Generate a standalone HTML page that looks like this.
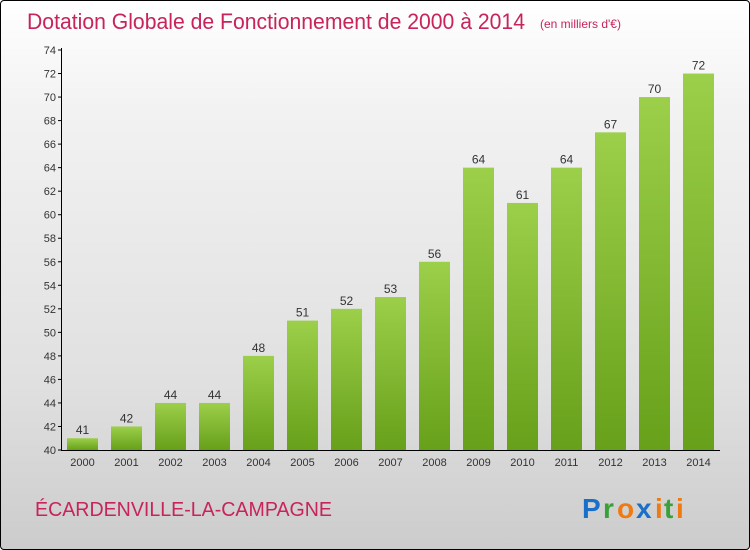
<!DOCTYPE html>
<html><head><meta charset="utf-8"><style>
html,body{margin:0;padding:0;}
body{width:750px;height:550px;overflow:hidden;font-family:"Liberation Sans",sans-serif;}
#wrap{position:absolute;left:0;top:0;width:748px;height:548px;border:1px solid #000;border-radius:4px;background:linear-gradient(#ffffff,#f2f2f2 20%,#e0e0e0 70%,#cccccc);}
</style></head><body>
<div id="wrap">
<svg width="750" height="550" style="position:absolute;left:-1px;top:-1px">
<defs><linearGradient id="g" x1="0" y1="0" x2="0" y2="1"><stop offset="0" stop-color="#9ccf4a"/><stop offset="1" stop-color="#67a01a"/></linearGradient></defs>
<text x="27" y="29" font-size="22" fill="#c8235a" textLength="498" lengthAdjust="spacingAndGlyphs">Dotation Globale de Fonctionnement de 2000 à 2014</text>
<text x="540" y="28" font-size="12" fill="#c8235a">(en milliers d'€)</text>
<g id="plot"></g>
<text x="35" y="516" font-size="20" fill="#c8235a" textLength="297" lengthAdjust="spacingAndGlyphs">ÉCARDENVILLE-LA-CAMPAGNE</text>
<g font-size="28" font-weight="bold">
<text x="582" y="518" fill="#1a6fc9">P</text><text x="603" y="518" fill="#3aa03a">r</text><text x="617" y="518" fill="#f07a10">o</text><text x="636" y="518" fill="#1a6fc9">x</text><text x="655" y="518" fill="#f07a10">i</text><text x="664" y="518" fill="#3aa03a">t</text><text x="676" y="518" fill="#f07a10">i</text>
</g>
</svg>
</div>
<script>
const years=["2000","2001","2002","2003","2004","2005","2006","2007","2008","2009","2010","2011","2012","2013","2014"];
const values=[41,42,44,44,48,51,52,53,56,64,61,64,67,70,72];
const yTicks=[40,42,44,46,48,50,52,54,56,58,60,62,64,66,68,70,72,74];
const NS="http://www.w3.org/2000/svg";
const g=document.getElementById('plot');
const y0=450,y1=50,vmin=40,vmax=74;
function ys(v){return y0-(v-vmin)/(vmax-vmin)*(y0-y1);}
function xs(i){return 82+i*44;}
function mk(t,a){const e=document.createElementNS(NS,t);for(const k in a)e.setAttribute(k,a[k]);g.appendChild(e);return e;}
yTicks.forEach(v=>{
 const l=mk('line',{x1:58,x2:62,y1:ys(v),y2:ys(v),stroke:'#000'});
 
 
 const t=mk('text',{x:56,y:ys(v)+4,'font-size':11,fill:'#333','text-anchor':'end'});
 t.textContent=v;
 
 
});
values.forEach((v,i)=>{
 const r=mk('rect',{x:xs(i)-15,y:ys(v),width:31,height:y0-ys(v),fill:'url(#g)'});
 
 
 const t=mk('text',{x:xs(i)+0.5,y:ys(v)-4,'font-size':12,fill:'#333','text-anchor':'middle'});
 t.textContent=v;
 
 
 const xl=mk('text',{x:xs(i)+0.5,y:466,'font-size':11,fill:'#333','text-anchor':'middle'});
 xl.textContent=years[i];
 
 
});
const ya=mk('line',{x1:61.5,x2:61.5,y1:48,y2:451,stroke:'#000'});


const xa=mk('line',{x1:61,x2:720,y1:450.5,y2:450.5,stroke:'#000'});


</script>
</body></html>
